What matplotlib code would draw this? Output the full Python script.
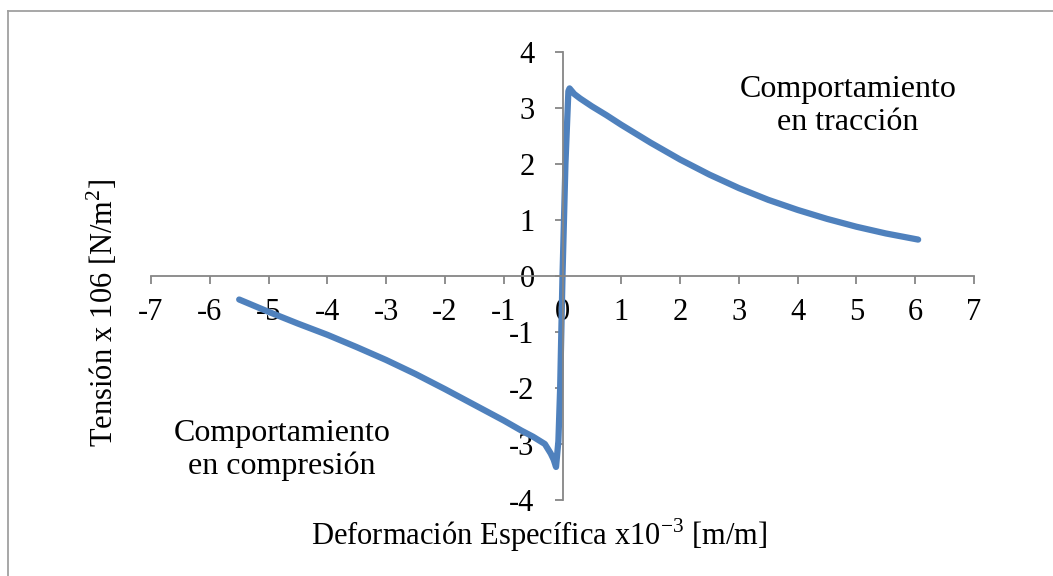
"""Curva tension-deformacion (traccion / compresion)."""

import matplotlib

matplotlib.use("Agg")
import matplotlib.pyplot as plt
from matplotlib.lines import Line2D

plt.rcParams["font.family"] = ["Liberation Serif", "DejaVu Serif"]
plt.rcParams["mathtext.fontset"] = "custom"
plt.rcParams["mathtext.rm"] = "Liberation Serif"
plt.rcParams["axes.unicode_minus"] = False

# deformacion x1e-3 [m/m] y tension x1e6 [N/m2], de compresion a traccion
strain = [-5.5, -5.0, -4.5, -4.0, -3.5, -3.0, -2.5, -2.0, -1.5, -1.0, -0.7, -0.5,
          -0.3, -0.2, -0.15, -0.11, -0.07, -0.04, 0.0, 0.05, 0.1, 0.12,
          0.2, 0.3, 0.5, 0.75, 1.0, 1.5, 2.0, 2.5, 3.0, 3.5, 4.0, 4.5, 5.0, 5.5, 6.05]
stress = [-0.42, -0.64, -0.85, -1.05, -1.27, -1.50, -1.75, -2.02, -2.30, -2.58, -2.76, -2.87,
          -3.00, -3.17, -3.28, -3.41, -2.95, -2.0, 0.0, 2.0, 3.3, 3.35,
          3.25, 3.17, 3.03, 2.87, 2.70, 2.38, 2.08, 1.81, 1.57, 1.36, 1.18, 1.02, 0.88, 0.76, 0.65]
x_ticks = list(range(-7, 8))
y_ticks = list(range(-4, 5))

W, H = 1053, 576
fig = plt.figure(figsize=(W / 100, H / 100), dpi=100)
ax = fig.add_axes([151 / W, 1 - 500 / H, 823 / W, 448 / H])

ax.plot(strain, stress, color="#4F81BD", lw=4.5, solid_capstyle="round", solid_joinstyle="round")
ax.set_xlim(-7, 7)
ax.set_ylim(-4, 4)
ax.set_xticks(x_ticks)
ax.set_yticks(y_ticks)

for side in ("top", "right"):
    ax.spines[side].set_visible(False)
for side in ("left", "bottom"):
    ax.spines[side].set_position(("data", 0))
    ax.spines[side].set_color("#868686")
    ax.spines[side].set_linewidth(1.3)
ax.tick_params(axis="both", colors="#868686", labelcolor="black", labelsize=22,
               length=6, width=1.3, direction="out")
ax.tick_params(axis="x", pad=10)
ax.tick_params(axis="y", pad=14)

fig.text(103 / W, 1 - 313 / H, r"Tensión x 106 [N/m$^{2}$]", rotation=90,
         ha="center", va="center", fontsize=22)
fig.text(539 / W, 1 - 535 / H, r"Deformación Específica x10$^{\mathrm{-3}}$ [m/m]",
         ha="center", va="center", fontsize=22)
fig.text(848 / W, 1 - 106 / H, "Comportamiento\nen tracción", ha="center", va="center",
         fontsize=23, linespacing=1.15)
fig.text(282 / W, 1 - 450 / H, "Comportamiento\nen compresión", ha="center", va="center",
         fontsize=23, linespacing=1.15)

# marco exterior (solo se ve arriba y a la izquierda)
fig.add_artist(Line2D([8 / W, 8 / W], [0, 1 - 11 / H], transform=fig.transFigure,
                      color="#A0A0A0", lw=1.3))
fig.add_artist(Line2D([8 / W, 1], [1 - 11 / H, 1 - 11 / H], transform=fig.transFigure,
                      color="#A0A0A0", lw=1.3))

fig.savefig("out.png", dpi=100)
